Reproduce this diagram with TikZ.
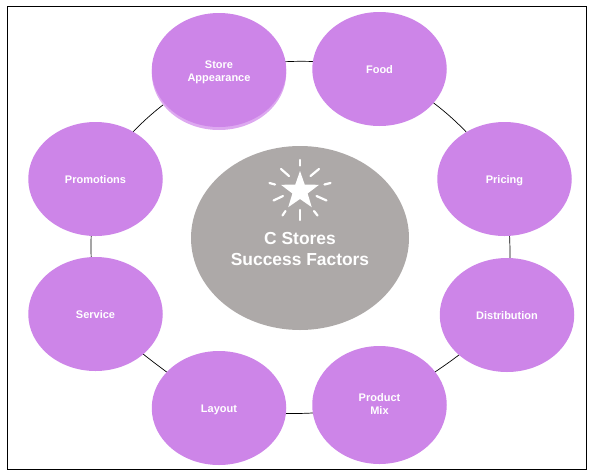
\documentclass[tikz,border=0pt]{standalone}
\usepackage{fontspec}
\setmainfont{Liberation Sans}
\usepackage{xcolor}
\usetikzlibrary{shapes.geometric, positioning, calc, backgrounds}
\definecolor{FactorPurple}{HTML}{CD85E8}
\definecolor{FactorShadow}{HTML}{DDA8F0}
\definecolor{HubGrey}{HTML}{ADA9A8}
\tikzset{
    % Outer success factor
    factor/.style={
        ellipse,
        fill=FactorPurple,
        text=white,
        inner sep=0pt,
        minimum width=134.5pt,
        minimum height=114pt,
        align=center,
        text height=9pt,
        text depth=0pt,
        font=\fontsize{11}{13}\selectfont\bfseries
    },
    % Central ellipse
    hub/.style={
        ellipse,
        fill=HubGrey,
        inner sep=0pt,
        minimum width=218pt,
        minimum height=184pt
    },
    % Central caption
    caption/.style={
        text=white,
        align=center,
        inner sep=0pt,
        font=\fontsize{17.4}{20.5}\selectfont\bfseries
    },
    % Star in the centre
    starmark/.style={
        star,
        star points=5,
        star point ratio=2.5,
        fill=white,
        inner sep=0pt,
        minimum size=40pt
    },
    % Ray round the star
    ray/.style={
        white,
        line width=2.2pt,
        line cap=round
    },
    % Ring between the factors
    ring/.style={
        black,
        line width=0.7pt
    }
}

\begin{document}
\begin{tikzpicture}[x=1pt, y=-1pt]
        \useasboundingbox (0,0) rectangle (589,472);
        \node (frame) [draw=black, line width=1pt, inner sep=0pt, minimum width=579pt, minimum height=463pt] at (296.8,237.8) {};

        % Centre
        \node (hub) [hub] at (300,238) {};
        \node (title) [caption] at (300,249) {C Stores\\Success Factors};
        \node (star) [starmark] at (300,191) {};
        \foreach \xa/\ya/\xb/\yb in {0/-31/0/-25.5, -19/-22/-11/-15, 19/-22/10.5/-15, -30.5/-8/-25/-6.5, 30.5/-8/24.5/-6.5, -26.5/9.5/-17/5, 26.5/9.5/16.5/5, -17.5/24.5/-14.5/20, 17.5/24.5/14/20, 0/19/0/29}
            \draw [ray] ($(star.center)+(\xa,\ya)$) -- ($(star.center)+(\xb,\yb)$);

        % Factors
        \node (storeshadow) [factor, fill=FactorShadow] at (219,73) {};
        \node (store) [factor, text height=23pt] at (219,70) {Store\\Appearance};
        \node (food) [factor] at (379.5,69) {Food};
        \node (pricing) [factor] at (504.5,179) {Pricing};
        \node (distribution) [factor] at (507,315) {Distribution};
        \node (product) [factor, minimum height=118pt, text height=21pt, text depth=2pt] at (379.5,405) {Product\\Mix};
        \node (layout) [factor] at (219,408) {Layout};
        \node (service) [factor] at (95.5,314) {Service};
        \node (promotions) [factor] at (95.5,179) {Promotions};

        % Ring, under the factors
        \begin{scope}[on background layer]
            \draw [ring] (store.center) to [bend left=10] (food.center);
            \draw [ring] (food.center) to [bend left=13] (pricing.center);
            \draw [ring] (pricing.center) to [bend left=6] (distribution.center);
            \draw [ring] (distribution.center) to [bend left=6.5] (product.center);
            \draw [ring] (product.center) to [bend left=8.5] (layout.center);
            \draw [ring] (layout.center) to [bend left=4] (service.center);
            \draw [ring] (service.center) to [bend left=6.5] (promotions.center);
            \draw [ring] (promotions.center) to [bend left=13.7] (store.center);
        \end{scope}
\end{tikzpicture}
\end{document}
